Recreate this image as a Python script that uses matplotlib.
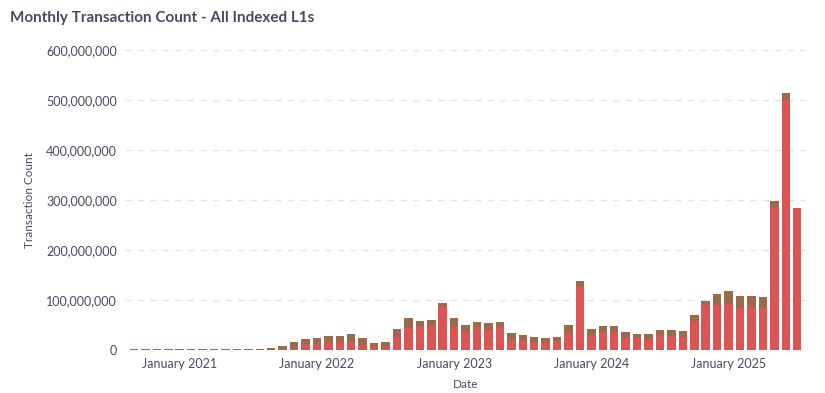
import matplotlib.pyplot as plt
from matplotlib.ticker import FuncFormatter

# months Sep 2020 .. Jul 2025, values in millions of transactions
months = [f"{y}-{m:02d}" for y in range(2020, 2026) for m in range(1, 13)][8:8 + 59]
totals = [2, 2, 2, 2,
          2, 2, 2, 2, 2, 2, 2, 2.5, 4, 9, 16, 22,
          25, 28, 28, 32, 24, 15, 16, 42, 64, 59, 60, 94,
          64, 50, 57, 55, 56, 34, 30, 27, 24, 27, 51, 138,
          42, 49, 49, 36, 32, 32, 40, 40, 39, 70, 99, 112,
          119, 109, 109, 106, 298, 515, 285]
# brownish top part of each stacked bar
brown = [2, 2, 2, 2,
         2, 2, 2, 2, 2, 2, 2, 2.5, 4, 9, 12, 10,
         12, 14, 12, 16, 14, 8, 10, 16, 20, 10, 12, 8,
         18, 14, 10, 14, 10, 14, 12, 12, 10, 8, 16, 12,
         14, 14, 14, 12, 8, 10, 10, 12, 12, 12, 8, 22,
         26, 24, 22, 22, 12, 14, 0]
red = [t - b for t, b in zip(totals, brown)]

tick_pos = [4, 16, 28, 40, 52]
tick_labels = ["January 2021", "January 2022", "January 2023", "January 2024", "January 2025"]

plt.rcParams['font.family'] = ['Lato', 'DejaVu Sans']
text_col = '#464b5f'

fig = plt.figure(figsize=(8.25, 3.93), dpi=100)
ax = fig.add_axes([0.152, 0.109, 0.824, 0.763])

x = list(range(len(months)))
red_v = [v * 1e6 for v in red]
brown_v = [v * 1e6 for v in brown]
ax.bar(x, red_v, width=0.74, color='#dc5454', zorder=3)
ax.bar(x, brown_v, bottom=red_v, width=0.74, color='#9a6a4b', zorder=3)

ax.set_xlim(-0.75, 58.7)
ax.set_ylim(0, 600e6)
ax.set_yticks([i * 100e6 for i in range(7)])
ax.yaxis.set_major_formatter(FuncFormatter(lambda v, p: f"{int(v):,}"))
ax.set_xticks(tick_pos)
ax.set_xticklabels(tick_labels)
ax.tick_params(length=0, labelsize=9, labelcolor=text_col, pad=6)
ax.grid(axis='y', color='#e2e2e6', linestyle=(0, (5, 5)), linewidth=0.9, zorder=0)
for s in ax.spines.values():
    s.set_visible(False)

ax.set_ylabel("Transaction Count", fontsize=8.5, color=text_col, labelpad=8)
ax.set_xlabel("Date", fontsize=8.5, color=text_col, labelpad=6)
fig.text(0.012, 0.955, "Monthly Transaction Count - All Indexed L1s", fontsize=11,
         fontweight='bold', color=text_col, va='center', ha='left')

fig.savefig("out.png", dpi=100)
